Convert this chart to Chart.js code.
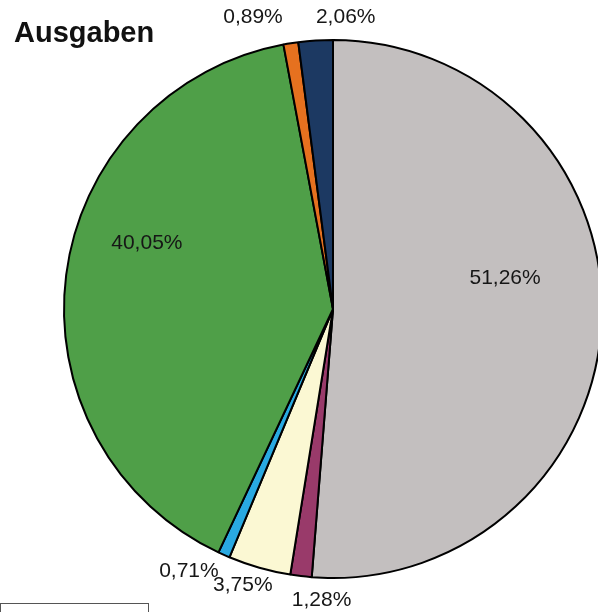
<!DOCTYPE html>
<html lang="de">
<head>
    <meta charset="UTF-8">
    <title>Ausgaben</title>
    <script src="https://cdn.jsdelivr.net/npm/chart.js"></script>
    <style>
        html, body { margin: 0; padding: 0; overflow: hidden; background: #fff; }
        /* canvas is wider than the window: the pie is cut on the right as in the original */
        #wrap { width: 666px; height: 618px; }
    </style>
</head>
<body>
    <div id="wrap"><canvas id="myChart" width="666" height="618"></canvas></div>

    <script>
        // Data
        const categories = ['Posten 1', 'Posten 2', 'Posten 3', 'Posten 4', 'Posten 5', 'Posten 6', 'Posten 7'];
        const shares = [51.26, 1.28, 3.75, 0.71, 40.05, 0.89, 2.06];
        const labelsText = ['51,26%', '1,28%', '3,75%', '0,71%', '40,05%', '0,89%', '2,06%'];

        // Styles
        const colors = ['#c3bfbf', '#993a6a', '#fbf8d3', '#29a9e1', '#4f9f48', '#e6711f', '#1c3962'];
        // label placement: distance as fraction of radius, angle nudge in degrees
        const labelDist = [0.65, 1.083, 1.079, 1.111, 0.734, 1.126, 1.087];
        const labelShift = [-12.5, -4.6, 2.2, 4.9, 12.2, -6.3, 6.2];

        const decorPlugin = {
            id: 'decor',
            afterDatasetsDraw(chart) {
                const c = chart.ctx;
                const arcs = chart.getDatasetMeta(0).data;
                c.save();
                c.fillStyle = '#161616';
                c.font = '21px "Liberation Sans", Arial, sans-serif';
                c.textAlign = 'center';
                c.textBaseline = 'middle';
                arcs.forEach((arc, i) => {
                    const p = arc.getProps(['x', 'y', 'startAngle', 'endAngle', 'outerRadius'], true);
                    const mid = (p.startAngle + p.endAngle) / 2 + labelShift[i] * Math.PI / 180;
                    const r = p.outerRadius * labelDist[i];
                    c.fillText(labelsText[i], p.x + Math.cos(mid) * r, p.y + Math.sin(mid) * r);
                });
                // title
                c.font = 'bold 29px "Liberation Sans", Arial, sans-serif';
                c.textAlign = 'left';
                c.textBaseline = 'alphabetic';
                c.fillStyle = '#111';
                c.fillText('Ausgaben', 14, 42);
                // legend frame (cut off at the bottom)
                c.strokeStyle = '#555';
                c.lineWidth = 1;
                c.strokeRect(0.5, 603.5, 148, 40);
                c.restore();
            }
        };

        const ctx = document.getElementById('myChart').getContext('2d');
        const myChart = new Chart(ctx, {
            type: 'pie',
            data: {
                labels: categories,
                datasets: [{
                    data: shares,
                    backgroundColor: colors,
                    borderColor: '#000',
                    borderWidth: 2
                }]
            },
            options: {
                responsive: false,
                animation: false,
                radius: 269,
                layout: { padding: 40 },
                plugins: {
                    legend: { display: false },
                    tooltip: { enabled: false }
                }
            },
            plugins: [decorPlugin]
        });
    </script>
</body>
</html>
